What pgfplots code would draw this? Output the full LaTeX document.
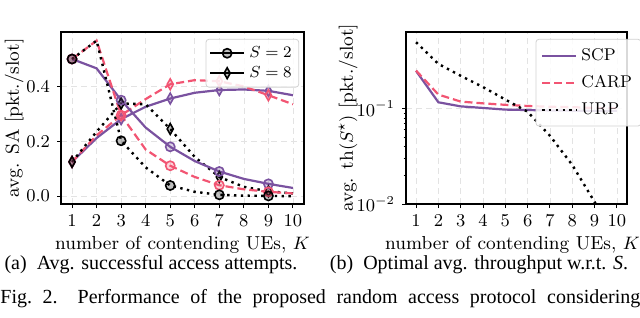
\documentclass[border=0pt]{standalone}
\usepackage{fontspec}
\usepackage{pgfplots}
\pgfplotsset{compat=1.18}
\newfontfamily\capfont{Liberation Serif}
\definecolor{scp}{RGB}{122,82,160}
\definecolor{carp}{RGB}{242,85,115}

\pgfplotstableread{
K  scp2  carp2 urp2  scp8  carp8 urp8
1  0.500 0.500 0.500 0.125 0.125 0.125
2  0.466 0.567 0.567 0.212 0.222 0.235
3  0.350 0.295 0.202 0.281 0.295 0.338
4  0.250 0.170 0.105 0.326 0.354 0.335
5  0.180 0.111 0.039 0.356 0.408 0.245
6  0.128 0.070 0.016 0.377 0.423 0.143
7  0.090 0.040 0.005 0.387 0.419 0.070
8  0.063 0.025 0.002 0.389 0.400 0.034
9  0.045 0.016 0.001 0.384 0.368 0.018
10 0.030 0.010 0.000 0.368 0.335 0.010
}\satable

\pgfplotstableread{
K  scp    carp   urp
1  0.250  0.252  0.500
2  0.117  0.141  0.296
3  0.106  0.119  0.222
4  0.102  0.114  0.169
5  0.098  0.110  0.125
6  0.097  0.107  0.093
7  0.096  0.105  0.052
8  0.0955 0.104  0.0257
9  0.095  0.102  0.0105
10 0.095  0.1015 0.0042
}\thtable

\pgfplotsset{
  myaxis/.style={
    scale only axis, height=86pt,
    xmin=0.55, xmax=10.45, xtick={1,...,10},
    tick pos=left, tick align=outside,
    major tick length=2pt, minor tick length=1.2pt,
    grid=major, grid style={densely dashed, gray!22, line width=0.3pt},
    axis line style={line width=0.6pt},
    every tick/.style={black, line width=0.5pt},
    tick label style={font=\fontsize{9}{10}\selectfont},
    label style={font=\fontsize{9.4}{11}\selectfont},
    xlabel={number of contending UEs, $K$},
    xlabel style={at={(axis description cs:0.5,-0.238)}, anchor=center},
    legend cell align=left,
    legend style={font=\fontsize{8.5}{10}\selectfont, draw=gray!35, rounded corners=1.5pt,
      fill=white, fill opacity=0.85, text opacity=1,
      row sep=-1pt, inner sep=1.5pt},
  },
  scpline/.style={scp, line width=1.1pt, solid},
  carpline/.style={carp, line width=1.1pt, dash pattern=on 4pt off 2pt},
  urpline/.style={black, line width=1.2pt, dash pattern=on 1.2pt off 2.2pt},
  cmark/.style={mark=*, mark size=2.3pt, mark repeat=2, mark phase=1,
     mark options={solid, fill opacity=0.25, line width=0.8pt}},
  dmark/.style={mark=diamond*, mark size=2.7pt, mark repeat=2, mark phase=1,
     mark options={solid, xscale=0.75, fill opacity=0.25, line width=0.8pt}},
}

\begin{document}
\begin{tikzpicture}
\useasboundingbox (0,0) rectangle (320pt,158.5pt);

\begin{axis}[myaxis, at={(30.5pt,56.5pt)}, anchor=south west, width=121.5pt,
  ymin=-0.0285, ymax=0.5985, ytick={0,0.2,0.4},
  yticklabel style={/pgf/number format/fixed, /pgf/number format/fixed zerofill, /pgf/number format/precision=1},
  ylabel={avg. SA [pkt./slot]},
  ylabel style={at={(axis description cs:-0.193,0.5)}, anchor=center},
  legend style={at={(0.98,0.96)}, anchor=north east},
]
\addlegendimage{black, line width=1.1pt, mark=*, mark size=2.3pt, mark options={fill opacity=0.25, line width=0.8pt}}
\addlegendentry{$S=2$}
\addlegendimage{black, line width=1.1pt, mark=diamond*, mark size=2.7pt, mark options={xscale=0.75, fill opacity=0.25, line width=0.8pt}}
\addlegendentry{$S=8$}
\addplot[scpline, dmark, forget plot] table[x=K, y=scp8] {\satable};
\addplot[carpline, dmark, forget plot] table[x=K, y=carp8] {\satable};
\addplot[urpline, dmark, forget plot] table[x=K, y=urp8] {\satable};
\addplot[scpline, cmark, forget plot] table[x=K, y=scp2] {\satable};
\addplot[carpline, cmark, forget plot] table[x=K, y=carp2] {\satable};
\addplot[urpline, cmark, forget plot] table[x=K, y=urp2] {\satable};
\end{axis}

\begin{axis}[myaxis, at={(203pt,56.5pt)}, anchor=south west, width=110.5pt,
  ymode=log, ymin=0.01, ymax=0.64, ytick={0.01,0.1},
  ylabel={avg. th$(S^{\star})$ [pkt./slot]},
  ylabel style={at={(axis description cs:-0.262,0.5)}, anchor=center},
  xlabel style={at={(axis description cs:0.482,-0.238)}, anchor=center},
  legend style={at={(1.065,0.96)}, anchor=north east, row sep=2pt, inner sep=2.5pt},
]
\addplot[scpline] table[x=K, y=scp] {\thtable};
\addlegendentry{SCP}
\addplot[carpline] table[x=K, y=carp] {\thtable};
\addlegendentry{CARP}
\addplot[urpline] table[x=K, y=urp] {\thtable};
\addlegendentry{URP}
\end{axis}

\node[anchor=center, inner sep=0] at (75.5pt,26pt) {\capfont\fontsize{10}{12}\selectfont (a)\enspace Avg. successful access attempts.};
\node[anchor=center, inner sep=0] at (239.5pt,26pt) {\capfont\fontsize{10}{12}\selectfont (b)\enspace Optimal avg. throughput w.r.t. \textit{S}.};
\node[anchor=west, inner sep=0] at (0pt,9pt) {\capfont\fontsize{10}{12}\selectfont\makebox[320pt][s]{Fig.\ 2.\quad Performance of the proposed random access protocol considering}};
\end{tikzpicture}
\end{document}
